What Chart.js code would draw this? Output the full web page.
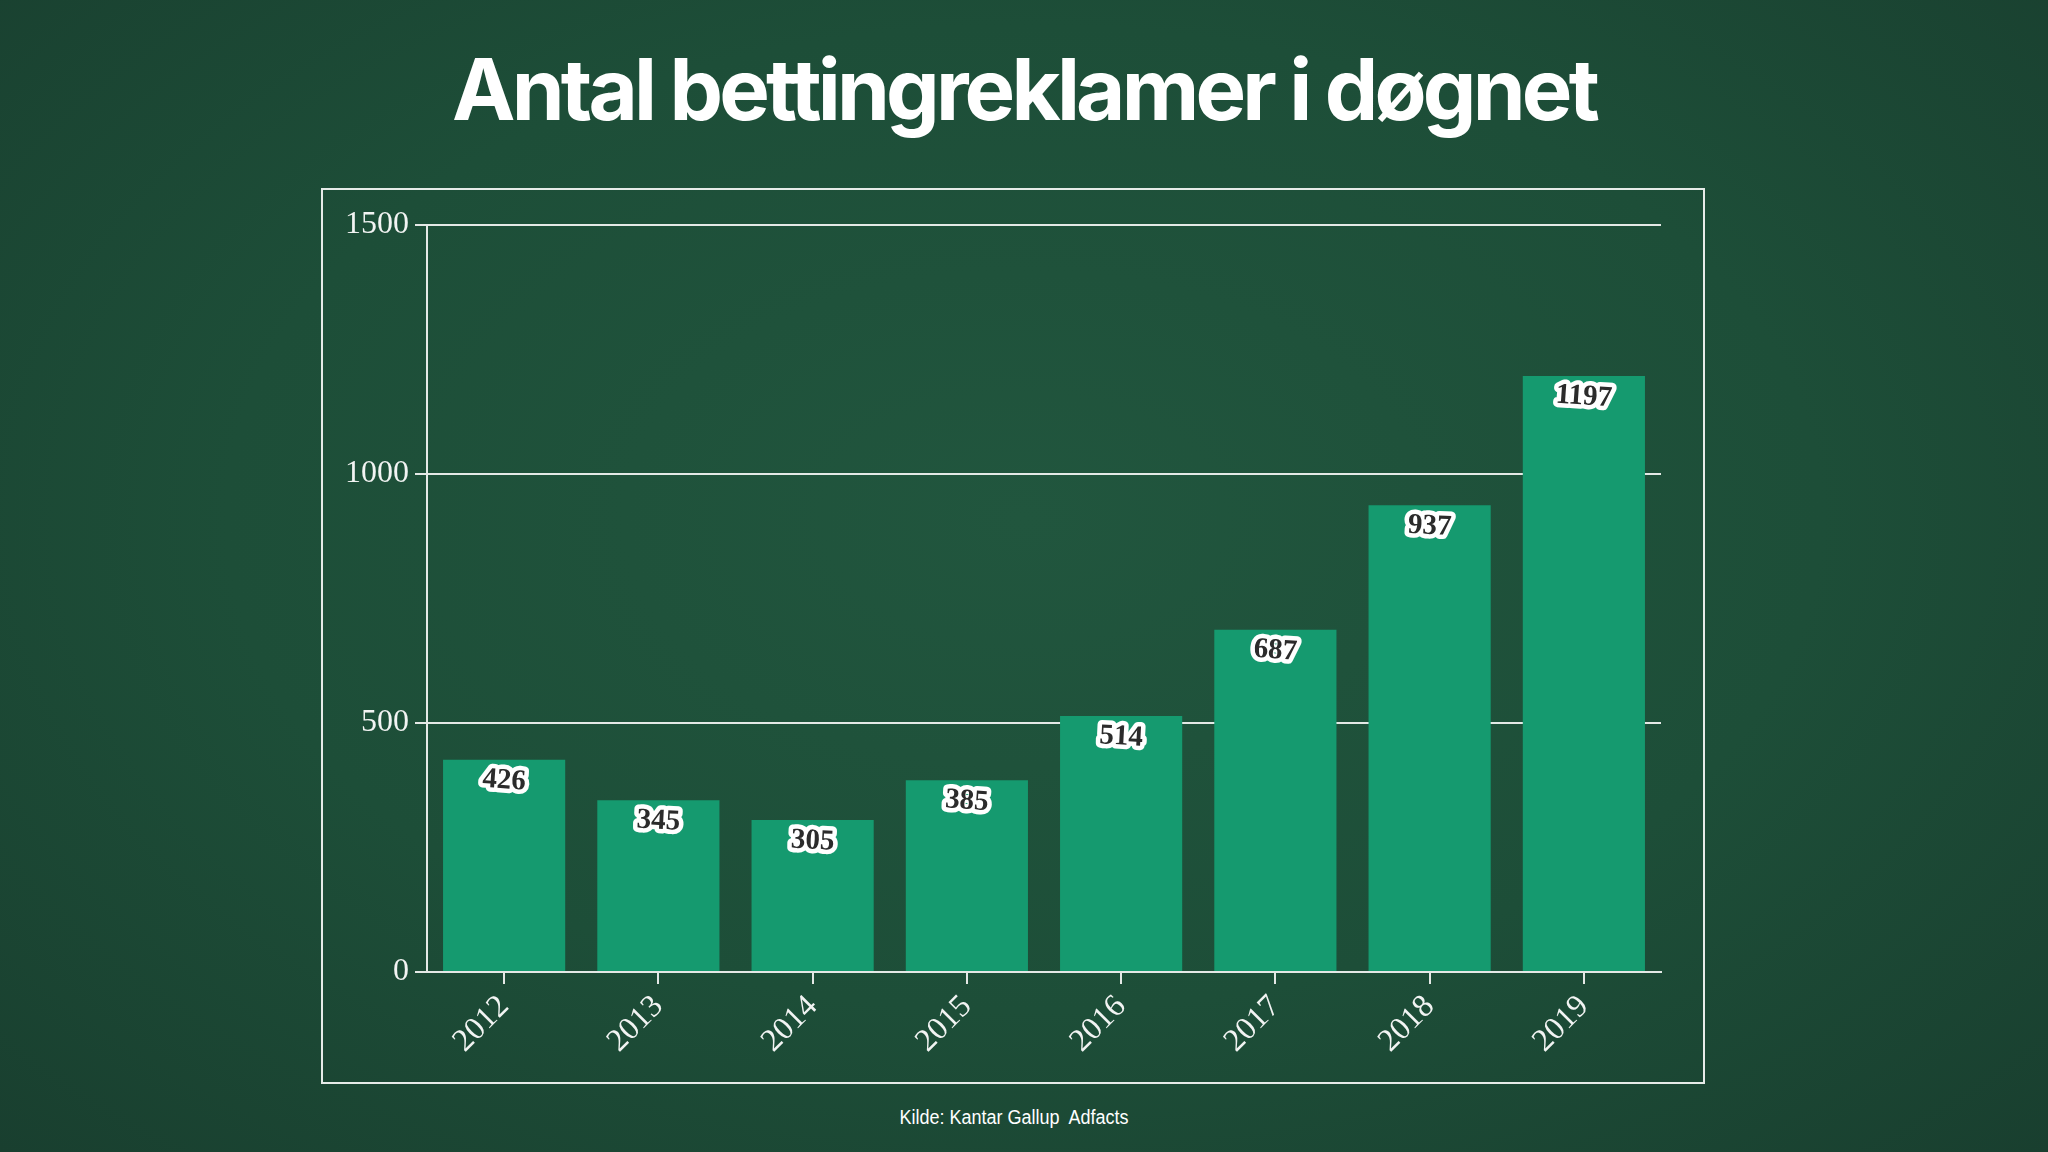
<!DOCTYPE html>
<html>
<head>
<meta charset="utf-8">
<script src="https://cdn.jsdelivr.net/npm/chart.js@4"></script>
<style>
  html, body { margin: 0; padding: 0; }
  body {
    width: 2048px; height: 1152px; overflow: hidden; position: relative;
    background: radial-gradient(ellipse at 50% 45%, #21563e 0%, #1d4e38 55%, #193f2f 100%);
  }
  #title {
    position: absolute; left: 0; width: 2048px; top: 40px; text-align: center;
    font-family: Inter, "Liberation Sans", sans-serif; font-weight: 700;
    font-size: 85px; line-height: 100px; letter-spacing: -0.045em; color: #fff;
  }
  #frame {
    position: absolute; left: 321px; top: 188px; width: 1384px; height: 896px;
    border: 2px solid #e6ebe8; box-sizing: border-box;
  }
  #source {
    position: absolute; left: 0; width: 2028px; top: 1106px; text-align: center;
    font-family: "Liberation Sans Narrow", "Liberation Sans", sans-serif;
    font-size: 20px; color: #fff; transform: scaleX(0.9);
  }
  #wrap { position: absolute; left: 0; top: 0; width: 2048px; height: 1152px; }
</style>
</head>
<body>
<div id="title">Antal bettingreklamer i døgnet</div>
<div id="frame"></div>
<div id="source">Kilde: Kantar Gallup&nbsp; Adfacts</div>
<div id="wrap"><canvas id="chart" width="2048" height="1152"></canvas></div>
<script>
const years = ["2012", "2013", "2014", "2015", "2016", "2017", "2018", "2019"];
const adsPerDay = [426, 345, 305, 385, 514, 687, 937, 1197];
const yTicks = [0, 500, 1000, 1500];

const lineColor = "#e4e9e6";
const barColor = "#159a6f";
const serif = "'Liberation Serif', 'DejaVu Serif', serif";

// value labels sitting on top of each bar like little white stickers
const stickerLabels = {
    id: "stickerLabels",
    afterDatasetsDraw(chart) {
        const ctx = chart.ctx;
        const meta = chart.getDatasetMeta(0);
        const tilts = [4, 3, 3, 4, 3, 4, 3, 4];
        ctx.save();
        ctx.font = "bold 29px " + serif;
        ctx.textAlign = "center";
        ctx.textBaseline = "middle";
        meta.data.forEach((bar, i) => {
            const text = String(adsPerDay[i]);
            ctx.save();
            ctx.translate(bar.x, bar.y + 21);
            ctx.rotate(tilts[i] * Math.PI / 180);
            ctx.lineJoin = "round";
            ctx.lineWidth = 9;
            ctx.strokeStyle = "#ffffff";
            ctx.strokeText(text, 0, 0);
            ctx.fillStyle = "#2b2b2b";
            ctx.fillText(text, 0, 0);
            ctx.restore();
        });
        ctx.restore();
    }
};

new Chart(document.getElementById("chart"), {
    type: "bar",
    data: {
        labels: years,
        datasets: [{
            data: adsPerDay,
            backgroundColor: barColor,
            borderWidth: 0,
            barPercentage: 0.8,
            categoryPercentage: 0.99
        }]
    },
    options: {
        responsive: false,
        animation: false,
        devicePixelRatio: 1,
        layout: { padding: { left: 327, right: 387, top: 225, bottom: 72 } },
        plugins: { legend: { display: false }, tooltip: { enabled: false } },
        scales: {
            x: {
                afterFit: scale => { scale.height = 108; },
                grid: { display: true, offset: false, drawOnChartArea: false, drawTicks: true, tickLength: 12, color: lineColor, lineWidth: 2 },
                border: { display: true, color: lineColor, width: 2 },
                ticks: {
                    color: "#f2f4f3", font: { family: serif, size: 32 },
                    maxRotation: 45, minRotation: 45, padding: 4
                }
            },
            y: {
                min: 0, max: 1500,
                afterFit: scale => { scale.width = 100; },
                afterBuildTicks: scale => { scale.ticks = yTicks.map(v => ({ value: v })); },
                grid: { color: lineColor, lineWidth: 2, tickLength: 12 },
                border: { display: true, color: lineColor, width: 2 },
                ticks: {
                    color: "#f2f4f3", font: { family: serif, size: 32 }, padding: 6,
                    callback: value => String(value)
                }
            }
        }
    },
    plugins: [stickerLabels]
});
</script>
</body>
</html>
